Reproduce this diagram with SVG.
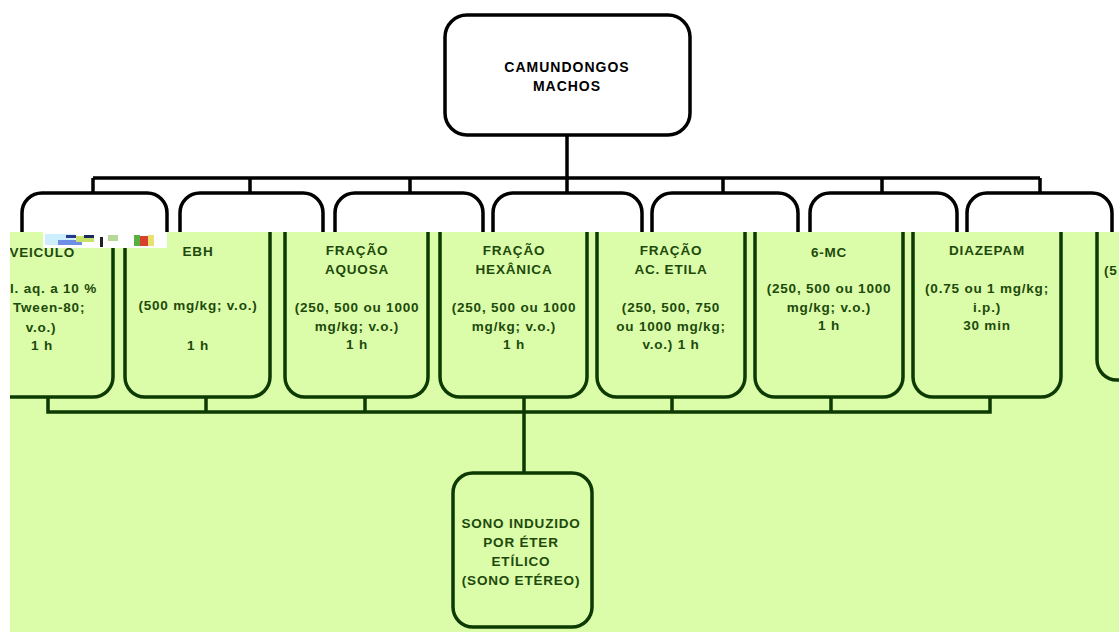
<svg xmlns="http://www.w3.org/2000/svg" width="1119" height="632" viewBox="0 0 1119 632">
<style>
.t{font-family:"Liberation Sans",Arial,sans-serif;font-weight:bold;font-size:13.5px;letter-spacing:0.8px;text-anchor:middle;fill:#1d4a0c}
.tt{font-family:"Liberation Sans",Arial,sans-serif;font-weight:bold;font-size:14px;letter-spacing:1px;text-anchor:middle;fill:#000}
.bt{fill:none;stroke:#000;stroke-width:3.5}
.bb{fill:none;stroke:#0d3a02;stroke-width:3.5}
.ct{fill:none;stroke:#000;stroke-width:3.5}
.cb{fill:none;stroke:#0d3a02;stroke-width:3.5}
</style>
<defs>
<clipPath id="cTop"><rect x="0" y="0" width="1119" height="232"/></clipPath>
<clipPath id="cBot"><rect x="10" y="232" width="1109" height="400"/></clipPath>
</defs>
<rect width="1119" height="632" fill="#fff"/>
<rect x="10" y="232" width="1109" height="400" fill="#dbfca8"/>

<g id="connectors">
<g clip-path="url(#cTop)">
<path class="ct" d="M93,178 H1040 M93,178 V194 M250,178 V194 M410,178 V194 M567,135 V194 M723,178 V194 M882,178 V194 M1040,178 V194"/>
</g>
<path class="cb" d="M48,397 V412 H990 V397 M206,397 V412 M365,397 V412 M524,397 V473 M672,397 V412 M831,397 V412"/>
</g>

<g id="camundongos">
<rect class="bt" x="445" y="15" width="245" height="120" rx="22" fill="#fff"/>
<text class="tt" x="567" y="72">CAMUNDONGOS</text>
<text class="tt" x="567" y="91">MACHOS</text>
</g>

<g id="tops" clip-path="url(#cTop)">
<path class="bt" d="M22,240 V213 A20,20 0 0 1 42,193 H147 A20,20 0 0 1 167,213 V240"/>
<path class="bt" d="M180,240 V213 A20,20 0 0 1 200,193 H303 A20,20 0 0 1 323,213 V240"/>
<path class="bt" d="M335,240 V213 A20,20 0 0 1 355,193 H463 A20,20 0 0 1 483,213 V240"/>
<path class="bt" d="M493,240 V213 A20,20 0 0 1 513,193 H622 A20,20 0 0 1 642,213 V240"/>
<path class="bt" d="M652,240 V213 A20,20 0 0 1 672,193 H778 A20,20 0 0 1 798,213 V240"/>
<path class="bt" d="M810,240 V213 A20,20 0 0 1 830,193 H937 A20,20 0 0 1 957,213 V240"/>
<path class="bt" d="M967,240 V213 A20,20 0 0 1 987,193 H1092 A20,20 0 0 1 1112,213 V240"/>
</g>

<g clip-path="url(#cBot)">
<g id="veiculo">
<path class="bb" d="M-33,200 V377 A20,20 0 0 0 -13,397 H93 A20,20 0 0 0 113,377 V200"/>
<text class="t" x="75" y="257" style="text-anchor:end">VEICULO</text>
<text class="t" x="97" y="293" style="text-anchor:end">l. aq. a 10 %</text>
<text class="t" x="13" y="312" style="text-anchor:start">Tween-80;</text>
<text class="t" x="41" y="332">v.o.)</text>
<text class="t" x="42" y="350">1 h</text>
</g>
<g id="ebh">
<path class="bb" d="M125,200 V377 A20,20 0 0 0 145,397 H250 A20,20 0 0 0 270,377 V200"/>
<text class="t" x="198" y="256">EBH</text>
<text class="t" x="198" y="310">(500 mg/kg; v.o.)</text>
<text class="t" x="198" y="350">1 h</text>
</g>
<g id="aquosa">
<path class="bb" d="M285,200 V377 A20,20 0 0 0 305,397 H408 A20,20 0 0 0 428,377 V200"/>
<text class="t" x="357" y="255">FRAÇÃO</text>
<text class="t" x="357" y="274">AQUOSA</text>
<text class="t" x="357" y="312">(250, 500 ou 1000</text>
<text class="t" x="357" y="331">mg/kg; v.o.)</text>
<text class="t" x="357" y="349">1 h</text>
</g>
<g id="hexanica">
<path class="bb" d="M440,200 V377 A20,20 0 0 0 460,397 H567 A20,20 0 0 0 587,377 V200"/>
<text class="t" x="514" y="255">FRAÇÃO</text>
<text class="t" x="514" y="274">HEXÂNICA</text>
<text class="t" x="514" y="312">(250, 500 ou 1000</text>
<text class="t" x="514" y="331">mg/kg; v.o.)</text>
<text class="t" x="514" y="349">1 h</text>
</g>
<g id="acetila">
<path class="bb" d="M597,200 V377 A20,20 0 0 0 617,397 H725 A20,20 0 0 0 745,377 V200"/>
<text class="t" x="671" y="255">FRAÇÃO</text>
<text class="t" x="671" y="274">AC. ETILA</text>
<text class="t" x="671" y="312">(250, 500, 750</text>
<text class="t" x="671" y="331">ou 1000 mg/kg;</text>
<text class="t" x="671" y="349">v.o.) 1 h</text>
</g>
<g id="mc6">
<path class="bb" d="M755,200 V377 A20,20 0 0 0 775,397 H883 A20,20 0 0 0 903,377 V200"/>
<text class="t" x="829" y="257">6-MC</text>
<text class="t" x="829" y="293">(250, 500 ou 1000</text>
<text class="t" x="829" y="312">mg/kg; v.o.)</text>
<text class="t" x="829" y="330">1 h</text>
</g>
<g id="diazepam">
<path class="bb" d="M913,200 V377 A20,20 0 0 0 933,397 H1041 A20,20 0 0 0 1061,377 V200"/>
<text class="t" x="987" y="255">DIAZEPAM</text>
<text class="t" x="987" y="293">(0.75 ou 1 mg/kg;</text>
<text class="t" x="987" y="312">i.p.)</text>
<text class="t" x="987" y="330">30 min</text>
</g>
<g id="box8">
<path class="bb" d="M1097,200 V360 A20,20 0 0 0 1117,380 H1180"/>
<text class="t" x="1104" y="275" style="text-anchor:start">(5</text>
</g>
</g>

<g id="glitch">
<rect x="43" y="232" width="124" height="16" fill="#fff"/>
<rect x="45" y="234" width="30" height="11" fill="#cdeefc"/>
<rect x="58" y="240" width="24" height="5" fill="#6f8fe6"/>
<rect x="66" y="235" width="10" height="3" fill="#2a3a8a"/>
<rect x="76" y="236" width="18" height="6" fill="#c9e36a"/>
<rect x="84" y="235" width="10" height="3" fill="#1a2a60"/>
<rect x="100" y="237" width="3" height="10" fill="#222"/>
<rect x="108" y="235" width="10" height="6" fill="#b8d898"/>
<rect x="134" y="235" width="6" height="11" fill="#58b040"/>
<rect x="140" y="236" width="8" height="10" fill="#d9402c"/>
<rect x="148" y="235" width="6" height="11" fill="#e8e070"/>
</g>

<g id="sono">
<rect class="bb" x="453" y="473" width="139" height="154" rx="20" fill="#dbfca8"/>
<text class="t" x="521" y="528">SONO INDUZIDO</text>
<text class="t" x="521" y="547">POR ÉTER</text>
<text class="t" x="521" y="566">ETÍLICO</text>
<text class="t" x="521" y="585">(SONO ETÉREO)</text>
</g>
</svg>
